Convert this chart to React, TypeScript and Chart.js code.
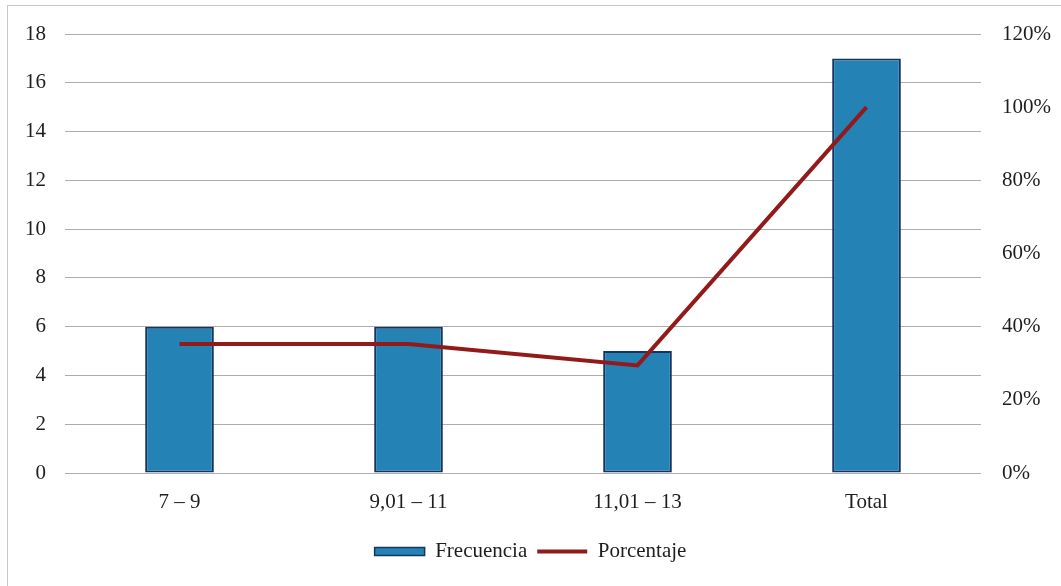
import React, { useEffect, useRef } from "react";
import { Chart, registerables } from "chart.js";

Chart.register(...registerables);

const categories = ["7 – 9", "9,01 – 11", "11,01 – 13", "Total"];
const frecuencia = [6, 6, 5, 17];
const porcentaje = [35.29, 35.29, 29.41, 100];
const leftTicks = [0, 2, 4, 6, 8, 10, 12, 14, 16, 18];
const rightTicks = [0, 20, 40, 60, 80, 100, 120];

const FONT = "'Liberation Serif', 'Times New Roman', serif";
const TEXT = "#1e1e1e";
const BAR_FILL = "#2482b4";
const BAR_EDGE = "#17345f";
const LINE = "#931a1a";

export default function App() {
  const ref = useRef<HTMLCanvasElement | null>(null);

  useEffect(() => {
    if (!ref.current) return;
    const chart = new Chart(ref.current, {
      type: "bar",
      data: {
        labels: categories,
        datasets: [
          {
            type: "line",
            label: "Porcentaje",
            data: porcentaje,
            yAxisID: "y1",
            borderColor: LINE,
            backgroundColor: LINE,
            borderWidth: 4,
            pointRadius: 0,
            tension: 0,
            order: 0,
          },
          {
            type: "bar",
            label: "Frecuencia",
            data: frecuencia,
            yAxisID: "y",
            backgroundColor: BAR_FILL,
            borderColor: BAR_EDGE,
            borderWidth: 2,
            borderSkipped: false,
            barPercentage: 0.3,
            categoryPercentage: 1,
            order: 1,
          },
        ],
      },
      options: {
        animation: false,
        responsive: true,
        maintainAspectRatio: false,
        layout: { padding: { top: 34, bottom: 14, left: 0, right: 0 } },
        font: { family: FONT },
        plugins: {
          tooltip: { enabled: false },
          legend: {
            position: "bottom",
            labels: {
              font: { family: FONT, size: 21 },
              color: TEXT,
              usePointStyle: true,
              pointStyleWidth: 50,
              boxHeight: 8,
              padding: 10,
              generateLabels: (c: any) => {
                const items = Chart.defaults.plugins.legend.labels.generateLabels(c);
                const mapped = items.map((it: any) => {
                  if (it.text === "Porcentaje") {
                    return { ...it, pointStyle: "line", lineWidth: 4, strokeStyle: LINE, fillStyle: LINE };
                  }
                  return { ...it, pointStyle: "rect", lineWidth: 1.5, strokeStyle: BAR_EDGE, fillStyle: BAR_FILL };
                });
                return mapped.sort((a: any, b: any) => (a.text === "Frecuencia" ? -1 : 1));
              },
            },
          },
        },
        scales: {
          x: {
            grid: { display: false },
            border: { display: false },
            ticks: { font: { family: FONT, size: 21 }, color: TEXT, padding: 9 },
            afterFit: (s: any) => {
              s.height = 58;
            },
          },
          y: {
            position: "left",
            min: 0,
            max: 18,
            afterBuildTicks: (s: any) => {
              s.ticks = leftTicks.map((v) => ({ value: v }));
            },
            grid: { color: "#adadad", lineWidth: 1, drawTicks: false },
            border: { display: false },
            ticks: { font: { family: FONT, size: 21 }, color: TEXT, padding: 19 },
            afterFit: (s: any) => {
              s.width = 65;
            },
          },
          y1: {
            position: "right",
            min: 0,
            max: 120,
            afterBuildTicks: (s: any) => {
              s.ticks = rightTicks.map((v) => ({ value: v }));
            },
            grid: { display: false, drawTicks: false },
            border: { display: false },
            ticks: {
              font: { family: FONT, size: 21 },
              color: TEXT,
              padding: 21,
              callback: (v: any) => v + "%",
            },
            afterFit: (s: any) => {
              s.width = 80;
            },
          },
        },
      },
    });
    return () => chart.destroy();
  }, []);

  return (
    <div
      style={{
        position: "fixed",
        left: 0,
        top: 0,
        width: 1061,
        height: 586,
        background: "#ffffff",
      }}
    >
      <div
        style={{
          position: "absolute",
          left: 7,
          top: 5,
          width: 1070,
          height: 600,
          border: "1px solid #c8c8c8",
          boxSizing: "border-box",
        }}
      />
      <canvas ref={ref} style={{ position: "absolute", left: 0, top: 0 }} />
    </div>
  );
}
